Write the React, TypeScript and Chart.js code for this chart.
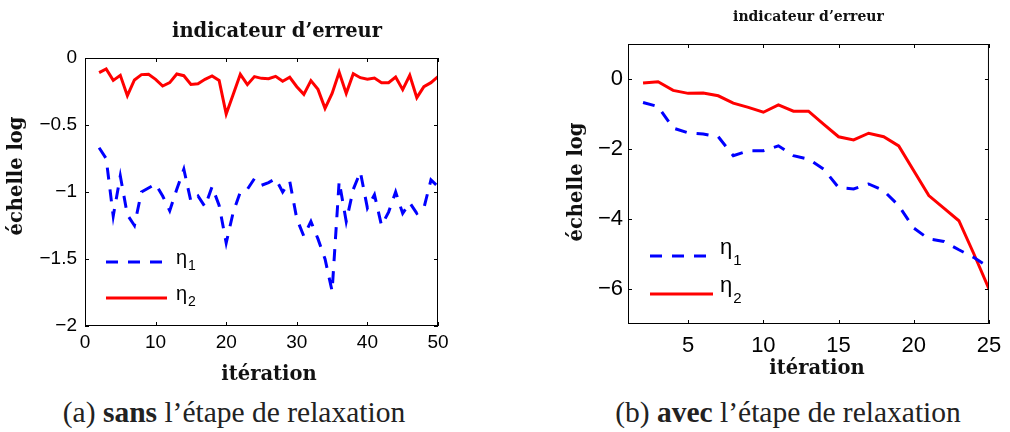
import React, { useEffect, useRef } from "react";
import { Chart, registerables } from "chart.js";

Chart.register(...registerables);

// ---------- data ----------
const iterA = [2, 3, 4, 5, 6, 7, 8, 9, 10, 11, 12, 13, 14, 15, 16, 17, 18, 19, 20, 21, 22, 23, 24, 25, 26, 27, 28, 29, 30, 31, 32, 33, 34, 35, 36, 37, 38, 39, 40, 41, 42, 43, 44, 45, 46, 47, 48, 49, 50];
const eta1A = [-0.67, -0.75, -1.18, -0.88, -1.17, -1.25, -1.0, -0.97, -0.94, -1.03, -1.14, -0.98, -0.83, -1.07, -1.03, -1.11, -0.96, -1.1, -1.38, -1.15, -1.0, -0.98, -0.9, -0.95, -0.93, -0.9, -1.0, -0.92, -1.2, -1.33, -1.22, -1.35, -1.5, -1.74, -0.92, -1.22, -0.98, -0.85, -1.12, -1.02, -1.25, -1.15, -1.0, -1.16, -1.08, -1.16, -1.12, -0.91, -0.96];
const eta2A = [-0.109, -0.082, -0.167, -0.129, -0.281, -0.164, -0.124, -0.122, -0.159, -0.209, -0.184, -0.119, -0.132, -0.197, -0.192, -0.159, -0.134, -0.167, -0.418, -0.271, -0.122, -0.199, -0.139, -0.152, -0.154, -0.137, -0.174, -0.144, -0.214, -0.271, -0.169, -0.234, -0.376, -0.264, -0.107, -0.264, -0.117, -0.147, -0.159, -0.149, -0.184, -0.184, -0.142, -0.236, -0.129, -0.296, -0.214, -0.184, -0.139];

const iterB = [2, 3, 4, 5, 6, 7, 8, 9, 10, 11, 12, 13, 14, 15, 16, 17, 18, 19, 20, 21, 22, 23, 24, 25];
const eta1B = [-0.67, -0.79, -1.4, -1.54, -1.57, -1.65, -2.19, -2.05, -2.05, -1.91, -2.19, -2.29, -2.57, -3.1, -3.14, -3.0, -3.19, -3.62, -4.26, -4.57, -4.64, -4.88, -5.1, -5.38];
const eta2B = [-0.115, -0.077, -0.325, -0.41, -0.4, -0.48, -0.69, -0.81, -0.95, -0.74, -0.92, -0.92, -1.29, -1.65, -1.74, -1.55, -1.65, -1.91, -2.62, -3.33, -3.69, -4.05, -5.0, -6.0];

const xTicksA = [0, 10, 20, 30, 40, 50];
const yTicksA = [0, -0.5, -1, -1.5, -2];
const xTicksB = [5, 10, 15, 20, 25];
const yTicksB = [0, -2, -4, -6];

const seriesLabels = ["η1", "η2"];
const chartTitle = "indicateur d’erreur";
const xTitle = "itération";
const yTitle = "échelle log";
const captionA = ["(a) ", "sans", " l’étape de relaxation"];
const captionB = ["(b) ", "avec", " l’étape de relaxation"];

const SERIF_BOLD = '"DejaVu Serif", serif';

// ---------- plugins ----------
const boxPlugin = {
  id: "matlabBox",
  afterDraw(chart: any, _args: any, opts: any) {
    const { ctx, chartArea } = chart;
    const { left, right, top, bottom } = chartArea;
    const tl = opts.tickLen || 4;
    ctx.save();
    ctx.strokeStyle = "#000";
    ctx.lineWidth = 1;
    ctx.setLineDash([]);
    ctx.strokeRect(left + 0.5, top + 0.5, right - left - 1, bottom - top - 1);
    const xs = chart.scales.x;
    const ys = chart.scales.y;
    ctx.beginPath();
    xs.ticks.forEach((t: any) => {
      const px = Math.round(xs.getPixelForValue(t.value)) + 0.5;
      ctx.moveTo(px, bottom);
      ctx.lineTo(px, bottom - tl);
      ctx.moveTo(px, top);
      ctx.lineTo(px, top + tl);
    });
    ys.ticks.forEach((t: any) => {
      const py = Math.round(ys.getPixelForValue(t.value)) + 0.5;
      ctx.moveTo(left, py);
      ctx.lineTo(left + tl, py);
      ctx.moveTo(right, py);
      ctx.lineTo(right - tl, py);
    });
    ctx.stroke();
    ctx.restore();
  },
};

const legendPlugin = {
  id: "matlabLegend",
  afterDraw(chart: any, _args: any, o: any) {
    if (!o || !o.rows) return;
    const { ctx, chartArea } = chart;
    ctx.save();
    chart.data.datasets.forEach((ds: any, i: number) => {
      const y = chartArea.bottom + o.rows[i];
      ctx.beginPath();
      ctx.strokeStyle = ds.borderColor;
      ctx.lineWidth = ds.borderWidth;
      ctx.setLineDash(ds.borderDash || []);
      ctx.moveTo(chartArea.left + o.x0, y);
      ctx.lineTo(chartArea.left + o.x1, y);
      ctx.stroke();
      ctx.setLineDash([]);
      const label: string = ds.label;
      const main = label.slice(0, 1);
      const sub = label.slice(1);
      ctx.fillStyle = "#000";
      ctx.textBaseline = "alphabetic";
      ctx.textAlign = "left";
      ctx.font = `${o.mainSize}px "Liberation Sans", Arial, sans-serif`;
      const tx = chartArea.left + o.textDx;
      ctx.fillText(main, tx, y + o.mainDy);
      const w = ctx.measureText(main).width;
      ctx.font = `${o.subSize}px "Liberation Sans", Arial, sans-serif`;
      ctx.fillText(sub, tx + w + 1, y + o.subDy);
    });
    ctx.restore();
  },
};

const textPlugin = {
  id: "panelText",
  afterDraw(chart: any, _args: any, o: any) {
    if (!o || !o.titleSize) return;
    const { ctx, chartArea } = chart;
    const cx = (chartArea.left + chartArea.right) / 2;
    const cy = (chartArea.top + chartArea.bottom) / 2;
    ctx.save();
    ctx.fillStyle = "#111";
    ctx.textAlign = "center";
    ctx.textBaseline = "alphabetic";
    ctx.font = `bold ${o.titleSize}px ${SERIF_BOLD}`;
    ctx.fillText(chartTitle, cx + o.titleDx, o.titleY);
    ctx.font = `bold ${o.labelSize}px ${SERIF_BOLD}`;
    ctx.fillText(xTitle, cx + o.xTitleDx, o.xTitleY);
    ctx.translate(o.yTitleX, cy + o.yTitleDy);
    ctx.rotate(-Math.PI / 2);
    ctx.textBaseline = "middle";
    ctx.fillText(yTitle, 0, 0);
    ctx.restore();
  },
};

const fmt = (v: any) => String(v).replace("-", "\u2212");

interface PanelCfg {
  iter: number[];
  e1: number[];
  e2: number[];
  xTicks: number[];
  yTicks: number[];
  xMin: number;
  xMax: number;
  yMin: number;
  yMax: number;
  width: number;
  height: number;
  yAxisWidth: number;
  xAxisHeight: number;
  padRight: number;
  padTop: number;
  tickSize: number;
  xTickPad: number;
  yTickPad: number;
  text: any;
  legend: any;
}

function Panel({ cfg }: { cfg: PanelCfg }) {
  const ref = useRef<HTMLCanvasElement | null>(null);
  useEffect(() => {
    if (!ref.current) return;
    const tickFont = { family: '"Liberation Sans", Arial, sans-serif', size: cfg.tickSize };
    const chart = new Chart(ref.current, {
      type: "line",
      data: {
        datasets: [
          {
            label: seriesLabels[0],
            data: cfg.iter.map((x, i) => ({ x, y: cfg.e1[i] })),
            borderColor: "#0000ff",
            borderWidth: 3,
            borderDash: [12, 10],
            pointRadius: 0,
            tension: 0,
            fill: false,
          },
          {
            label: seriesLabels[1],
            data: cfg.iter.map((x, i) => ({ x, y: cfg.e2[i] })),
            borderColor: "#ff0000",
            borderWidth: 3,
            pointRadius: 0,
            tension: 0,
            fill: false,
          },
        ],
      },
      options: {
        animation: false,
        responsive: false,
        events: [],
        layout: { padding: { left: 0, right: cfg.padRight, top: cfg.padTop, bottom: 0 } },
        plugins: {
          legend: { display: false },
          tooltip: { enabled: false },
          title: { display: false },
          matlabBox: { tickLen: 4 },
          matlabLegend: cfg.legend,
          panelText: cfg.text,
        } as any,
        scales: {
          x: {
            type: "linear",
            min: cfg.xMin,
            max: cfg.xMax,
            grid: { display: false, drawTicks: false },
            border: { display: false },
            ticks: {
              color: "#000",
              font: tickFont,
              padding: cfg.xTickPad,
              maxRotation: 0,
              autoSkip: false,
              callback: (v: any) => fmt(v),
            },
            afterBuildTicks: (s: any) => {
              s.ticks = cfg.xTicks.map((v) => ({ value: v }));
            },
            afterFit: (s: any) => {
              s.height = cfg.xAxisHeight;
            },
          },
          y: {
            type: "linear",
            min: cfg.yMin,
            max: cfg.yMax,
            grid: { display: false, drawTicks: false },
            border: { display: false },
            ticks: {
              color: "#000",
              font: tickFont,
              padding: cfg.yTickPad,
              autoSkip: false,
              callback: (v: any) => fmt(v),
            },
            afterBuildTicks: (s: any) => {
              s.ticks = cfg.yTicks.map((v) => ({ value: v }));
            },
            afterFit: (s: any) => {
              s.width = cfg.yAxisWidth;
            },
          },
        },
      },
      plugins: [boxPlugin, legendPlugin, textPlugin],
    });
    return () => chart.destroy();
  }, [cfg]);
  return <canvas ref={ref} width={cfg.width} height={cfg.height} style={{ display: "block" }} />;
}

const cfgA: PanelCfg = {
  iter: iterA,
  e1: eta1A,
  e2: eta2A,
  xTicks: xTicksA,
  yTicks: yTicksA,
  xMin: 0,
  xMax: 50,
  yMin: -2,
  yMax: 0,
  width: 470,
  height: 395,
  yAxisWidth: 85,
  xAxisHeight: 69,
  padRight: 32,
  padTop: 58,
  tickSize: 19,
  xTickPad: 5,
  yTickPad: 8,
  text: { titleSize: 19.5, titleDx: 15.5, titleY: 37, labelSize: 19.5, xTitleDx: 7.5, xTitleY: 380, yTitleX: 16.5, yTitleDy: -16 },
  legend: { rows: [-64, -28], x0: 21, x1: 82, textDx: 91, mainSize: 20, subSize: 14, mainDy: 1.5, subDy: 8 },
};

const cfgB: PanelCfg = {
  iter: iterB,
  e1: eta1B,
  e2: eta2B,
  xTicks: xTicksB,
  yTicks: yTicksB,
  xMin: 1,
  xMax: 25,
  yMin: -7,
  yMax: 1,
  width: 450,
  height: 395,
  yAxisWidth: 68,
  xAxisHeight: 71,
  padRight: 15,
  padTop: 44,
  tickSize: 22,
  xTickPad: 8.8,
  yTickPad: 5,
  text: { titleSize: 14, titleDx: 0, titleY: 21, labelSize: 19.5, xTitleDx: 8.5, xTitleY: 374, yTitleX: 17, yTitleDy: -2 },
  legend: { rows: [-68, -30], x0: 22, x1: 85, textDx: 92, mainSize: 22, subSize: 15, mainDy: -2, subDy: 9 },
};

const captionStyle: React.CSSProperties = {
  position: "absolute",
  top: 396,
  height: 32,
  lineHeight: "32px",
  fontFamily: '"Liberation Serif", "Times New Roman", serif',
  fontSize: 29.5,
  color: "#222",
  textAlign: "center",
  whiteSpace: "nowrap",
};

export default function App() {
  return (
    <div style={{ position: "fixed", left: 0, top: 0, width: 1010, height: 432, background: "#fff", overflow: "hidden" }}>
      <div style={{ position: "absolute", left: 0, top: 0 }}>
        <Panel cfg={cfgA} />
      </div>
      <div style={{ position: "absolute", left: 560, top: 0 }}>
        <Panel cfg={cfgB} />
      </div>
      <div style={{ ...captionStyle, left: 34, width: 400 }}>
        {captionA[0]}
        <b>{captionA[1]}</b>
        {captionA[2]}
      </div>
      <div style={{ ...captionStyle, left: 588, width: 400 }}>
        {captionB[0]}
        <b>{captionB[1]}</b>
        {captionB[2]}
      </div>
    </div>
  );
}
